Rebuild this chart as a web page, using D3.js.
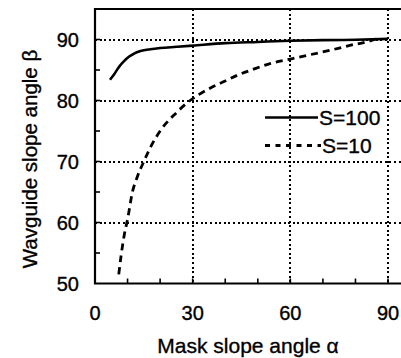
<!DOCTYPE html>
<html>
<head>
<meta charset="utf-8">
<script src="https://cdn.jsdelivr.net/npm/d3@7"></script>
<style>
  html, body { margin: 0; padding: 0; background: #fff; }
  svg { display: block; }
</style>
</head>
<body>
<script>
// S=100 curve (solid)
const alpha100 = [4.6, 6, 7.5, 9, 10.5, 12, 14, 17, 20, 25, 30, 40, 50, 60, 70, 80, 90]
const beta100 = [83.4, 84.4, 85.6, 86.5, 87.2, 87.7, 88.1, 88.4, 88.6, 88.8, 89.0, 89.4, 89.6, 89.8, 89.9, 89.95, 90.1]

// S=10 curve (dashed)
const alpha10 = [7.3, 8, 9, 10, 11.5, 13, 15, 17.5, 20, 25, 29.2, 32, 36, 40, 44, 48, 54, 60, 66, 72, 78, 84, 86.5]
const beta10 = [51.5, 54.5, 58, 60.5, 65, 67.5, 70, 72.8, 75, 78, 80, 81, 82.2, 83.2, 84.2, 85.0, 86.1, 86.8, 87.5, 88.2, 89, 89.7, 90.1]

const xTicks = [0, 30, 60, 90]
const xMinor = [10, 20, 30, 40, 50, 60, 70, 80, 90]
const yTicks = [50, 60, 70, 80, 90]
const yMinor = [55, 60, 65, 70, 75, 80, 85, 90]
const seriesNames = ['S=100', 'S=10']

const width = 401
const height = 358
const font = 'Liberation Sans, Arial, Helvetica, sans-serif'

const svg = d3.select('body').append('svg')
  .attr('width', width)
  .attr('height', height)

const x = d3.scaleLinear().domain([0, 95]).range([95, 404.3])
const y = d3.scaleLinear().domain([50, 95]).range([283.5, 9])

// Grid (dotted)
const grid = svg.append('g')
  .attr('stroke', '#000')
  .attr('stroke-width', 2)
  .attr('stroke-dasharray', '2,2.6')
  .attr('shape-rendering', 'crispEdges')

grid.selectAll('line.v')
  .data(xTicks.filter(d => d > 0))
  .join('line')
  .attr('class', 'v')
  .attr('x1', d => Math.round(x(d))).attr('x2', d => Math.round(x(d)))
  .attr('y1', y(95)).attr('y2', y(50))

grid.selectAll('line.h')
  .data(yTicks.filter(d => d > 50))
  .join('line')
  .attr('class', 'h')
  .attr('x1', x(0)).attr('x2', width)
  .attr('y1', d => Math.round(y(d))).attr('y2', d => Math.round(y(d)))

// Frame
svg.append('path')
  .attr('d', `M${width},${y(95)}H${x(0)}V${y(50)}H${width}`)
  .attr('fill', 'none')
  .attr('stroke', '#000')
  .attr('stroke-width', 2.2)

// Inward ticks
svg.append('g')
  .selectAll('line')
  .data(xMinor)
  .join('line')
  .attr('x1', d => x(d)).attr('x2', d => x(d))
  .attr('y1', y(50)).attr('y2', y(50) - 5)
  .attr('stroke', '#000')
  .attr('stroke-width', 1.6)

svg.append('g')
  .selectAll('line')
  .data(yMinor)
  .join('line')
  .attr('x1', x(0)).attr('x2', x(0) + 5)
  .attr('y1', d => y(d)).attr('y2', d => y(d))
  .attr('stroke', '#000')
  .attr('stroke-width', 1.6)

// Text style: slightly heavier than plain Liberation Sans
function styleText(sel, size) {
  sel.attr('font-family', font)
    .attr('font-size', size)
    .attr('fill', '#000')
    .attr('stroke', '#000')
    .attr('stroke-width', 0.35)
}

// Tick labels
svg.append('g')
  .selectAll('text')
  .data(xTicks)
  .join('text')
  .attr('x', d => x(d))
  .attr('y', 320)
  .attr('text-anchor', 'middle')
  .call(styleText, 20)
  .text(d => d)

svg.append('g')
  .selectAll('text')
  .data(yTicks)
  .join('text')
  .attr('x', 79)
  .attr('y', d => y(d) + 7)
  .attr('text-anchor', 'end')
  .call(styleText, 20)
  .text(d => d)

// Axis titles
svg.append('text')
  .attr('x', 248)
  .attr('y', 353)
  .attr('text-anchor', 'middle')
  .call(styleText, 21)
  .text('Mask slope angle α')

svg.append('text')
  .attr('transform', 'translate(37,159) rotate(-90)')
  .attr('text-anchor', 'middle')
  .call(styleText, 20.5)
  .text('Wavguide slope angle β')

// Curves
const line = d3.line()
  .x(d => x(d[0]))
  .y(d => y(d[1]))
  .curve(d3.curveMonotoneX)

svg.append('path')
  .datum(alpha100.map((a, i) => [a, beta100[i]]))
  .attr('d', line)
  .attr('fill', 'none')
  .attr('stroke', '#000')
  .attr('stroke-width', 2.6)

svg.append('path')
  .datum(alpha10.map((a, i) => [a, beta10[i]]))
  .attr('d', line)
  .attr('fill', 'none')
  .attr('stroke', '#000')
  .attr('stroke-width', 2.8)
  .attr('stroke-dasharray', '7,5')

// Legend
const legend = svg.append('g')
legend.append('line')
  .attr('x1', 265).attr('x2', 318)
  .attr('y1', 117.5).attr('y2', 117.5)
  .attr('stroke', '#000').attr('stroke-width', 2.6)
legend.append('line')
  .attr('x1', 265).attr('x2', 321)
  .attr('y1', 145.5).attr('y2', 145.5)
  .attr('stroke', '#000').attr('stroke-width', 2.8)
  .attr('stroke-dasharray', '5,5.5')
legend.selectAll('text')
  .data(seriesNames)
  .join('text')
  .attr('x', (d, i) => i === 0 ? 319 : 322)
  .attr('y', (d, i) => 124.5 + i * 28)
  .call(styleText, 21)
  .text(d => d)
</script>
</body>
</html>
